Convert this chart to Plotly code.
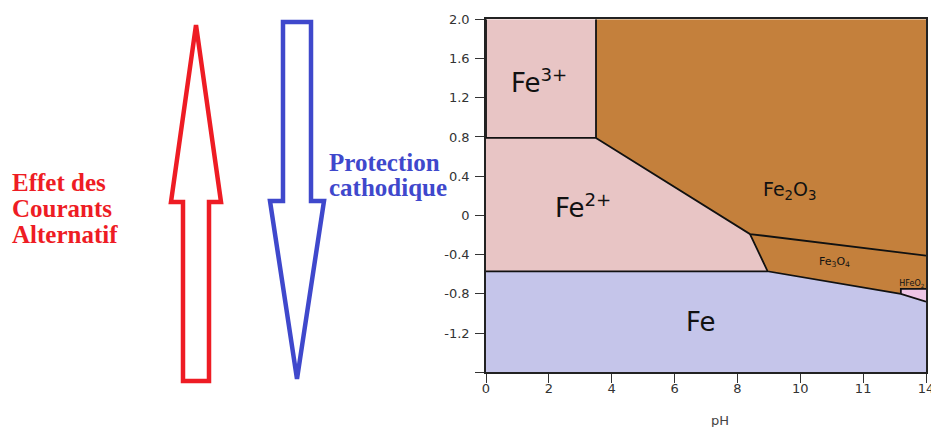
import plotly.graph_objects as go

W, H = 931, 427

# Boundary vertices of the iron Pourbaix diagram (pH, potential in V)
ph_fe3 = [0, 3.5, 3.5, 0]
e_fe3 = [0.79, 0.79, 2.0, 2.0]

ph_fe2 = [0, 8.96, 8.4, 3.5, 0]
e_fe2 = [-0.57, -0.57, -0.19, 0.79, 0.79]

ph_fe2o3 = [3.5, 14, 14, 8.4, 3.5]
e_fe2o3 = [2.0, 2.0, -0.41, -0.19, 0.79]

ph_fe3o4 = [8.4, 14, 14, 13.2, 13.2, 8.96]
e_fe3o4 = [-0.19, -0.41, -0.75, -0.75, -0.80, -0.57]

ph_hfeo2 = [13.2, 14, 14, 13.2]
e_hfeo2 = [-0.75, -0.75, -0.88, -0.80]

ph_fe = [0, 14, 14, 13.2, 8.96, 0]
e_fe = [-1.6, -1.6, -0.88, -0.80, -0.57, -0.57]

# Domain boundary lines (segments separated by None)
ph_lines = [0, 0, None, 0, 3.5, 3.5, None, 3.5, 8.4, 14, None, 8.4, 8.96, 13.2, 14, None,
            0, 8.96, None, 13.2, 13.2, 14]
e_lines = [2.0, 0.79, None, 0.79, 0.79, 2.0, None, 0.79, -0.19, -0.41, None, -0.19, -0.57, -0.80, -0.88, None,
           -0.57, -0.57, None, -0.80, -0.75, -0.75]

x_tickvals = [0, 2, 4, 6, 8, 10, 12, 14]
x_ticktext = ["0", "2", "4", "6", "8", "10", "11", "14"]
y_tickvals = [2.0, 1.6, 1.2, 0.8, 0.4, 0, -0.4, -0.8, -1.2, -1.6]
y_ticktext = ["2.0", "1.6", "1.2", "0.8", "0.4", "0", "-0.4", "-0.8", "-1.2", ""]

PINK = "#E8C5C5"
BROWN = "#C4803C"
BLUE = "#C5C5EA"
MAGENTA = "#EEC6E6"

regions = [
    (ph_fe3, e_fe3, PINK),
    (ph_fe2, e_fe2, PINK),
    (ph_fe2o3, e_fe2o3, BROWN),
    (ph_fe3o4, e_fe3o4, BROWN),
    (ph_hfeo2, e_hfeo2, MAGENTA),
    (ph_fe, e_fe, BLUE),
]

fig = go.Figure()
for xs, ys, col in regions:
    fig.add_trace(go.Scatter(x=xs, y=ys, fill="toself", fillcolor=col, mode="lines",
                             line=dict(width=0, color=col), hoverinfo="skip", showlegend=False))

fig.add_trace(go.Scatter(x=ph_lines, y=e_lines, mode="lines",
                         line=dict(color="#111111", width=1.8), hoverinfo="skip", showlegend=False))

# Small species label, clipped at the plot edge
fig.add_trace(go.Scatter(x=[13.15], y=[-0.70], mode="text", text=["HFeO<sub>2</sub>"],
                         textposition="middle right", textfont=dict(family="DejaVu Sans", size=8, color="#111"),
                         cliponaxis=True, hoverinfo="skip", showlegend=False))

label_font = "DejaVu Sans"
species = [
    ("Fe<sup>3+</sup>", 1.68, 1.37, 26),
    ("Fe<sup>2+</sup>", 3.10, 0.10, 26),
    ("Fe<sub>2</sub>O<sub>3</sub>", 9.67, 0.25, 19),
    ("Fe<sub>3</sub>O<sub>4</sub>", 11.1, -0.47, 11),
    ("Fe", 6.84, -1.09, 26),
]
for txt, x, y, size in species:
    fig.add_annotation(x=x, y=y, xref="x", yref="y", text=txt, showarrow=False,
                       font=dict(family=label_font, size=size, color="#111"))


def to_paper(px, py):
    return px / W, 1 - py / H


def path_from(points):
    pts = [to_paper(*p) for p in points]
    return "M " + " L ".join(f"{x:.5f},{y:.5f}" for x, y in pts) + " Z"


# Hollow arrows: current effect (up) and cathodic protection (down)
red_arrow = [(196, 25), (221, 202), (209, 202), (209, 381), (183, 381), (183, 202), (171, 202)]
blue_arrow = [(283, 22), (311, 22), (311, 201), (324, 201), (297, 379), (270, 201), (283, 201)]
RED = "#EE1C24"
BLUE_TXT = "#3F48CC"
fig.add_shape(type="path", path=path_from(red_arrow), xref="paper", yref="paper",
              line=dict(color=RED, width=4.5), fillcolor="rgba(0,0,0,0)", layer="above")
fig.add_shape(type="path", path=path_from(blue_arrow), xref="paper", yref="paper",
              line=dict(color=BLUE_TXT, width=4.5), fillcolor="rgba(0,0,0,0)", layer="above")

side_font = "Liberation Serif"
for txt, px, py in [("Effet des", 10, 182), ("Courants", 10, 208), ("Alternatif", 10, 234)]:
    x, y = to_paper(px, py)
    fig.add_annotation(x=x, y=y, xref="paper", yref="paper", text=f"<b>{txt}</b>", showarrow=False,
                       xanchor="left", yanchor="middle", font=dict(family=side_font, size=25, color=RED))
for txt, px, py in [("Protection", 327, 162), ("cathodique", 327, 187)]:
    x, y = to_paper(px, py)
    fig.add_annotation(x=x, y=y, xref="paper", yref="paper", text=f"<b>{txt}</b>", showarrow=False,
                       xanchor="left", yanchor="middle", font=dict(family=side_font, size=25, color=BLUE_TXT))

x, y = to_paper(720, 420)
fig.add_annotation(x=x, y=y, xref="paper", yref="paper", text="pH", showarrow=False,
                   xanchor="center", yanchor="middle",
                   font=dict(family="DejaVu Sans", size=13, color="#444"))

axis_common = dict(showgrid=False, zeroline=False, showline=True, linecolor="#222", linewidth=1.5,
                   mirror=True, ticks="outside", ticklen=9, tickwidth=1.2, tickcolor="#333",
                   ticklabeloverflow="allow", automargin=False,
                   tickfont=dict(family="DejaVu Sans", size=13, color="#333"))

fig.update_layout(
    width=W, height=H,
    margin=dict(l=0, r=0, t=0, b=0, pad=0),
    paper_bgcolor="white", plot_bgcolor="white",
    xaxis=dict(domain=[486 / W, 926 / W], range=[0, 14], tickmode="array",
               tickvals=x_tickvals, ticktext=x_ticktext, ticklabelstandoff=-6, **axis_common),
    yaxis=dict(domain=[1 - 372.3 / H, 1 - 19.3 / H], range=[-1.6, 2.0], tickmode="array",
               tickvals=y_tickvals, ticktext=y_ticktext, ticklabelstandoff=3, **axis_common),
)

fig.write_html("out.html")
